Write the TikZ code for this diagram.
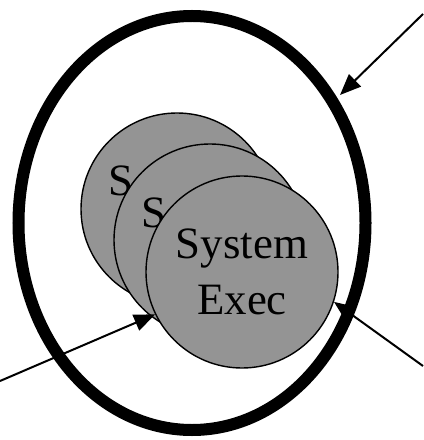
\documentclass[tikz,border=0pt]{standalone}
\usepackage{fontspec}
\setmainfont{Liberation Serif}
\usetikzlibrary{arrows.meta}
\definecolor{discgray}{gray}{0.58}
\tikzset{
  disc/.style={circle, draw=black, line width=1.4bp, fill=discgray, minimum size=192bp, inner sep=0pt,
    align=center, font=\fontsize{45}{56}\selectfont},
  label/.style={inner sep=0pt, font=\fontsize{45}{56}\selectfont},
  pointer/.style={line width=2bp, -{Triangle[length=21bp,width=17bp]}},
  boundary/.style={line width=12bp, draw=black}
}
\begin{document}
\begin{tikzpicture}[x=1bp,y=-1bp]
\useasboundingbox (0,0) rectangle (423,440);
\draw[boundary] (192,223) ellipse [x radius=173.5, y radius=207];
\node[disc] (c1) at (177,209) {};
\node[label] (s1) at (121,181) {S};
\node[disc] (c2) at (210,240) {};
\node[label] (s2) at (154,213) {S};
\node[disc] (c3) at (242,272) {System\\Exec};
\coordinate (p1) at (423,14);
\coordinate (t1) at (340,95);
\coordinate (p2) at (423,366);
\coordinate (p3) at (0,381);
\draw[pointer] (p1) -- (t1);
\draw[pointer] (p2) -- (c3.-18);
\draw[pointer] (p3) -- (c3.206);
\end{tikzpicture}
\end{document}
